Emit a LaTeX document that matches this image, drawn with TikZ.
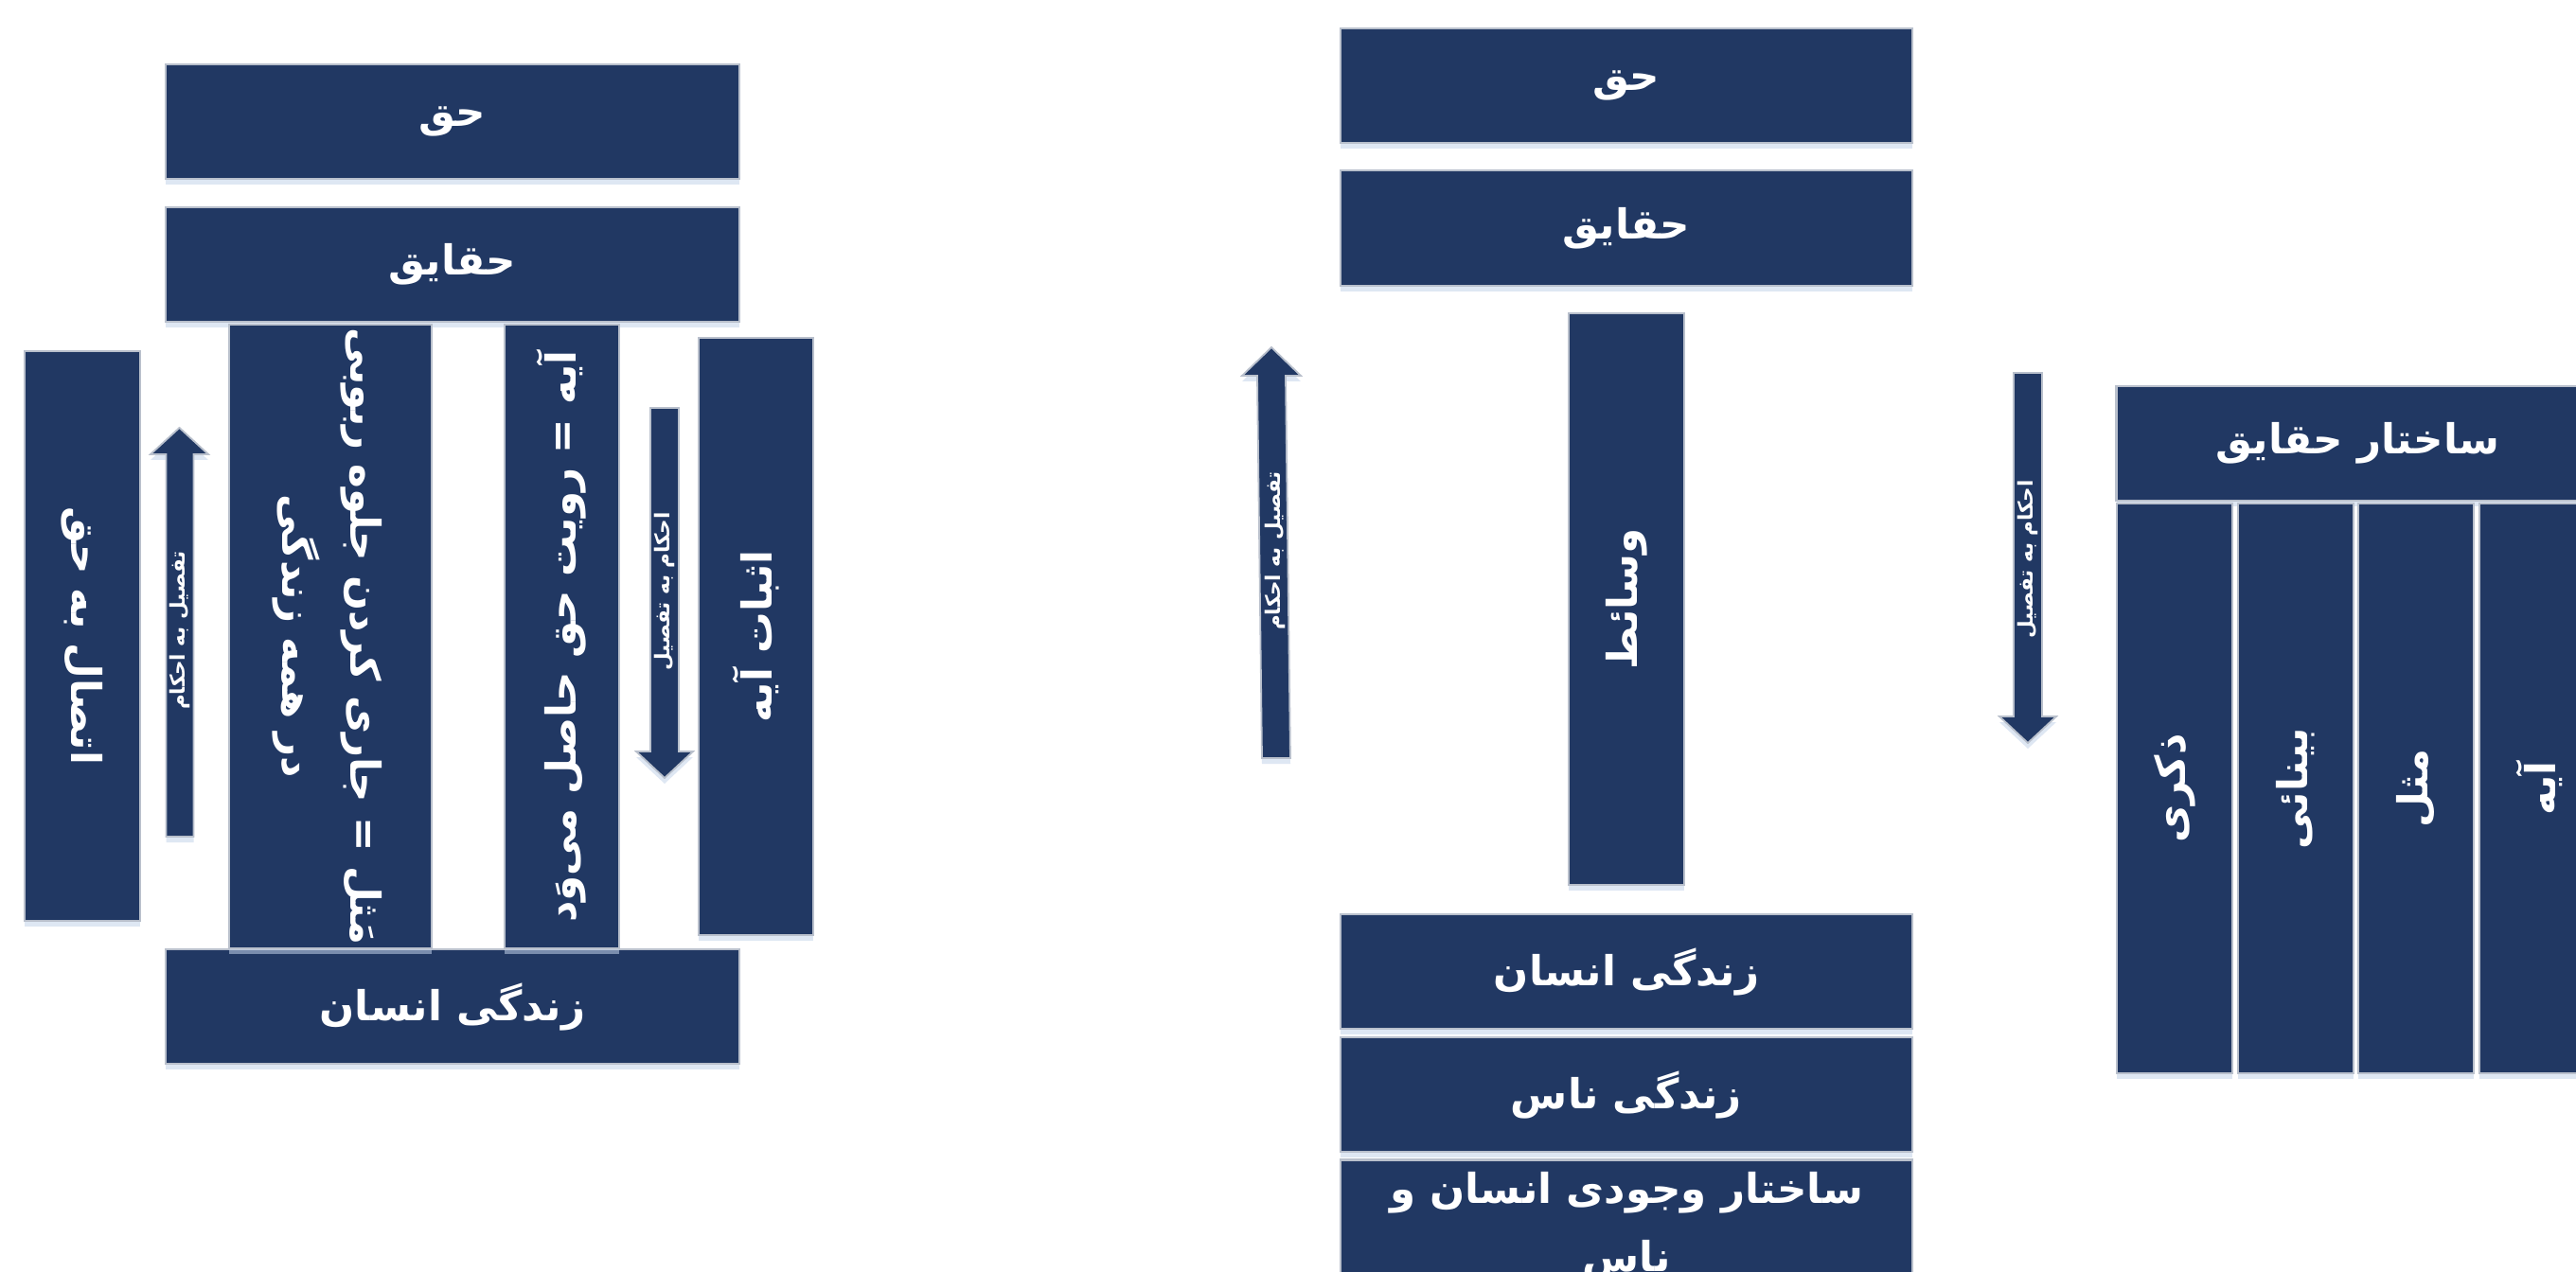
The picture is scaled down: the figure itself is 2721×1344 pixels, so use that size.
\documentclass[tikz,border=0pt]{standalone}
\usepackage{fontspec}
\newfontfamily\arabicfont[Script=Arabic]{DejaVu Sans}
\TeXXeTstate=1
\usetikzlibrary{shadows}
\definecolor{navy}{RGB}{33,56,99}
\definecolor{edgegray}{RGB}{185,192,204}
\definecolor{glowblue}{RGB}{196,212,234}
\newcommand{\ar}[1]{\beginR #1\endR}
\newcommand{\bigar}{\arabicfont\bfseries\fontsize{12.4}{20.5}\selectfont}
\newcommand{\smallar}{\arabicfont\bfseries\fontsize{6.1}{8}\selectfont}
\begin{document}
\begin{tikzpicture}[x=0.1mm,y=-0.1mm,
  glowy/.style={drop shadow={shadow xshift=0mm,shadow yshift=-0.6mm,fill=glowblue,opacity=0.55}},
  box/.style={rectangle,fill=navy,draw=edgegray,line width=0.22mm,inner sep=0pt,text=white,font=\bigar,glowy},
  blockarrow/.style={fill=navy,draw=edgegray,line width=0.18mm,glowy},
  arrowlabel/.style={text=white,font=\smallar,inner sep=0pt,rotate=90}]
\useasboundingbox (0,0) rectangle (2721,1344);
\clip (0,0) rectangle (2721,1344);
\fill[white] (0,0) rectangle (2721,1344);

% ---------------- left diagram ----------------
\node[box,minimum width=60.6mm,minimum height=12.1mm] (Lhaq) at (478,128.5) {\ar{حق}};
\node[box,minimum width=60.6mm,minimum height=12.1mm] (Lhaqaiq) at (478,279.5) {\ar{حقایق}};
\node[box,minimum width=60.6mm,minimum height=12.1mm] (Lzend) at (478,1063.5) {\ar{زندگی انسان}};
\node[box,minimum width=12.2mm,minimum height=60.2mm] (Lettesal) at (87,672) {\rotatebox{-90}{\ar{اتصال به حق}}};
\node[box,minimum width=21.4mm,minimum height=65.9mm] (Lmathal) at (349,672.5)
  {\rotatebox{-90}{\begin{tabular}{@{}c@{}}\ar{مَثل = جاری کردن جلوه ربوبی}\\ \ar{در همه زندگی}\end{tabular}}};
\node[box,minimum width=12.1mm,minimum height=65.9mm] (Laye) at (593.5,672.5) {\rotatebox{90}{\ar{آیه = رویت حق حاصل می‌وَد}}};
\node[box,minimum width=12.1mm,minimum height=63.1mm] (Lithbat) at (798.5,672.5) {\rotatebox{90}{\ar{اثبات آیه}}};

% up arrow (left)
\draw[blockarrow] (175.5,884) -- (175.5,480) -- (159,480) -- (189.5,452) -- (220,480) -- (204.5,480) -- (204.5,884) -- cycle;
\node[arrowlabel] (Lup) at (190,666) {\ar{تفصیل به احکام}};
% down arrow (left)
\draw[blockarrow] (687,431) -- (717,431) -- (717,794) -- (732,794) -- (702,822) -- (672,794) -- (687,794) -- cycle;
\node[arrowlabel] (Ldown) at (702,625) {\ar{احکام به تفصیل}};

% ---------------- middle diagram ----------------
\node[box,minimum width=60.4mm,minimum height=12.1mm] (Rhaq) at (1718,90.5) {\ar{حق}};
\node[box,minimum width=60.4mm,minimum height=12.2mm] (Rhaqaiq) at (1718,241) {\ar{حقایق}};
\node[box,minimum width=12.2mm,minimum height=60.4mm] (Rwasait) at (1718,633) {\rotatebox{90}{\ar{وسائط}}};
\node[box,minimum width=60.4mm,minimum height=12.1mm] (Rzend1) at (1718,1026.5) {\ar{زندگی انسان}};
\node[box,minimum width=60.4mm,minimum height=12.1mm] (Rzend2) at (1718,1156.5) {\ar{زندگی ناس}};
\node[box,minimum width=60.4mm,minimum height=12.1mm] (Rsakht) at (1718,1286) {};
\node[text=white,font=\bigar,align=center,inner sep=0pt] (Rsakhttext) at (1718,1296)
  {\ar{ساختار وجودی انسان و}\\ \ar{ناس}};

% up arrow (middle)
\draw[blockarrow] (1333,801) -- (1363,801) -- (1358,397) -- (1374,397) -- (1343,367) -- (1312,397) -- (1328,397) -- cycle;
\node[arrowlabel] (Rup) at (1347,582) {\ar{تفصیل به احکام}};
% down arrow (right)
\draw[blockarrow] (2127,394) -- (2157,394) -- (2157,757) -- (2172,757) -- (2142,785) -- (2112,757) -- (2127,757) -- cycle;
\node[arrowlabel] (Rdown) at (2142,591) {\ar{احکام به تفصیل}};

% ---------------- right structure ----------------
\node[box,minimum width=51mm,minimum height=12.1mm] (Shead) at (2490.5,468.5) {\ar{ساختار حقایق}};
\node[box,minimum width=12.2mm,minimum height=60.2mm] (Szekr) at (2297,833) {\rotatebox{90}{\ar{ذکری}}};
\node[box,minimum width=12.2mm,minimum height=60.2mm] (Sbinai) at (2424.7,833) {\rotatebox{90}{\ar{بینائی}}};
\node[box,minimum width=12.2mm,minimum height=60.2mm] (Smathal) at (2552.3,833) {\rotatebox{90}{\ar{مثل}}};
\node[box,minimum width=12.6mm,minimum height=60.2mm] (Saye) at (2682,833) {\rotatebox{90}{\ar{آیه}}};
\end{tikzpicture}
\end{document}
